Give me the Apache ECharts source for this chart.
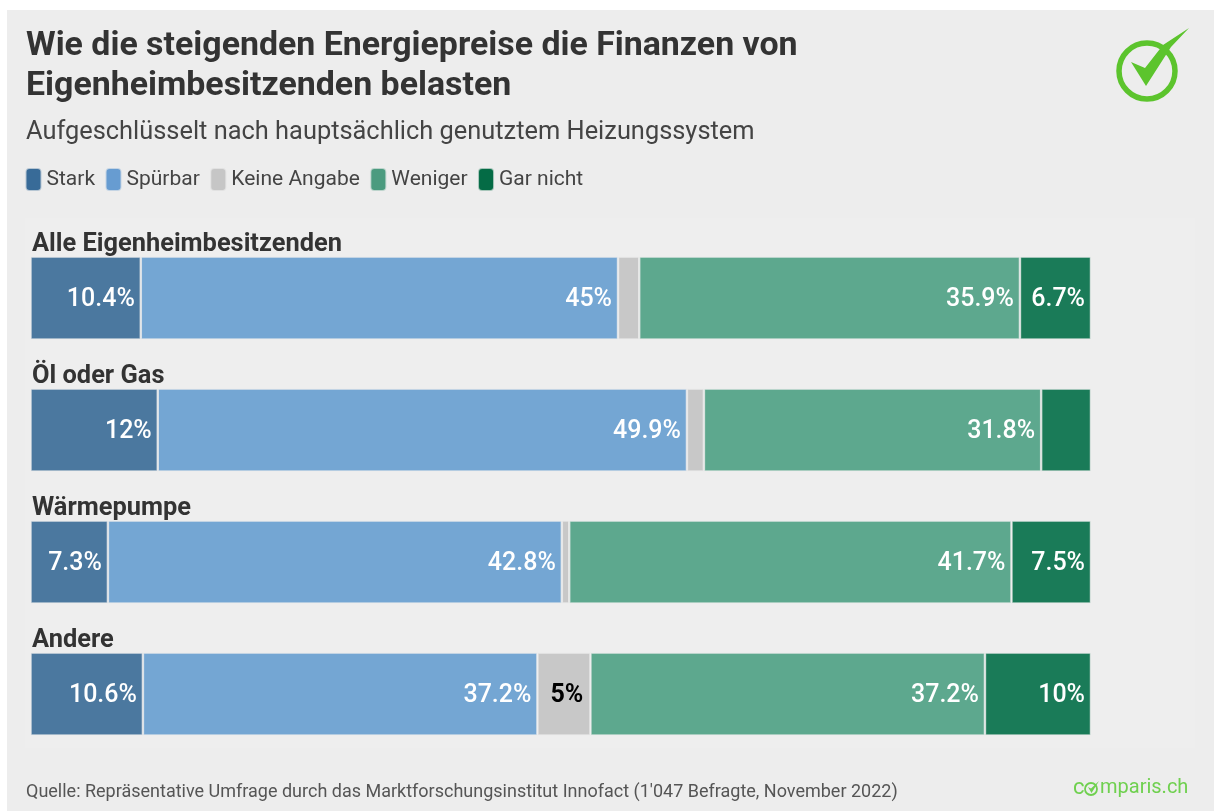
<!DOCTYPE html>
<html><head><meta charset="utf-8">
<style>html,body{margin:0;padding:0;background:#fff}#c{width:1214px;height:811px}</style>
<script src="https://cdn.jsdelivr.net/npm/echarts@6/dist/echarts.min.js"></script>
</head><body><div id="c"></div>
<script>
const categories = ['Alle Eigenheimbesitzenden','Öl oder Gas','Wärmepumpe','Andere'];
const stark = [10.4,12,7.3,10.6];
const spuerbar = [45,49.9,42.8,37.2];
const keineAngabe = [2.0,1.6,0.7,5];
const weniger = [35.9,31.8,41.7,37.2];
const garNicht = [6.7,4.7,7.5,10];
const hiddenLabels = {'Gar nicht':[false,true,false,false],'Keine Angabe':[true,true,true,false]};
const chart = echarts.init(document.getElementById('c'),null,{renderer:'canvas'});
const F='Roboto';
function fmt(v){return v+'%';}
function s(name,data,color,labelColor,weight){
  const hide=hiddenLabels[name]||[];
  const middle=name==='Keine Angabe';
  return {name,type:'bar',stack:'t',barWidth:83,data:data.map((v,i)=>({value:v,label:{show:!hide[i]}})),
    itemStyle:{color,borderColor:'rgba(237,237,237,0.7)',borderWidth:1.25},
    emphasis:{disabled:true},
    label:{show:true,position:middle?'inside':'insideRight',distance:6,offset:middle?[3,2]:[0,2],
      formatter:p=>fmt(p.value),color:labelColor||'#fff',fontFamily:F,fontSize:25,fontWeight:weight||500}};
}
chart.setOption({
  animation:false,
  backgroundColor:'#fff',
  grid:{left:30.5,width:1060.5,top:232,height:528,containLabel:false},
  xAxis:{type:'value',min:0,max:100,show:false},
  yAxis:{type:'category',inverse:true,data:categories,axisLine:{show:false},axisTick:{show:false},z:5,
    axisLabel:{show:true,inside:true,interval:0,hideOverlap:false,margin:1.5,align:'left',verticalAlign:'bottom',padding:[0,0,41,0],color:'#333',fontFamily:F,fontSize:25.4,fontWeight:700}},
  legend:{left:24.5,top:167,padding:0,itemWidth:16,itemHeight:23,itemGap:9.5,icon:'roundRect',selectedMode:false,
    textStyle:{fontFamily:F,fontSize:21,color:'#444'},
    data:[{name:'Stark',itemStyle:{color:'#386b98'}},{name:'Spürbar',itemStyle:{color:'#679cd1'}},{name:'Keine Angabe',itemStyle:{color:'#c6c6c6'}},{name:'Weniger',itemStyle:{color:'#4b9b7f'}},{name:'Gar nicht',itemStyle:{color:'#046b45'}}]},
  title:[
    {left:21,top:22,text:'Wie die steigenden Energiepreise die Finanzen von\nEigenheimbesitzenden belasten',
     textStyle:{fontFamily:F,fontSize:33.9,fontWeight:700,color:'#333',lineHeight:40}},
    {left:21,top:115,text:'Aufgeschlüsselt nach hauptsächlich genutztem Heizungssystem',
     textStyle:{fontFamily:F,fontSize:25.4,fontWeight:400,color:'#444'}},
    {left:21,top:778,text:"Quelle: Repräsentative Umfrage durch das Marktforschungsinstitut Innofact (1'047 Befragte, November 2022)",
     textStyle:{fontFamily:F,fontSize:18,fontWeight:400,color:'#555'}}
  ],
  series:[s('Stark',stark,'#4b789f'),s('Spürbar',spuerbar,'#74a6d3'),s('Keine Angabe',keineAngabe,'#c8c8c8','#000',700),s('Weniger',weniger,'#5da88e'),s('Gar nicht',garNicht,'#1a7b58')],
  graphic:[
    {type:'rect',z:-10,silent:true,shape:{x:7,y:10,width:1207,height:801},style:{fill:'#ededed'}},
    {type:'rect',z:-9,silent:true,shape:{x:25,y:218,width:1170,height:530},style:{fill:'#eeeeee'}},
    {type:'circle',silent:true,shape:{cx:1147,cy:71,r:28},style:{fill:'none',stroke:'#5cc42d',lineWidth:5.5}},
    {type:'polygon',silent:true,shape:{points:[[1131,62],[1145,68],[1163,45],[1189,28],[1171,47],[1146,86]]},style:{fill:'#5cc42d'}},
    {type:'text',silent:true,style:{x:1073,y:777,text:'c',font:'400 22px Roboto',fill:'#6fd04f'}},
    {type:'circle',silent:true,shape:{cx:1091,cy:789,r:6},style:{fill:'none',stroke:'#6fd04f',lineWidth:1.8}},
    {type:'polygon',silent:true,shape:{points:[[1088,787],[1091,788.5],[1099,781],[1091.5,793]]},style:{fill:'#6fd04f'}},
    {type:'text',silent:true,style:{x:1100,y:778,text:'mparis.ch',font:'400 20px Roboto',fill:'#6fd04f'}},
  ]
});
</script></body></html>
